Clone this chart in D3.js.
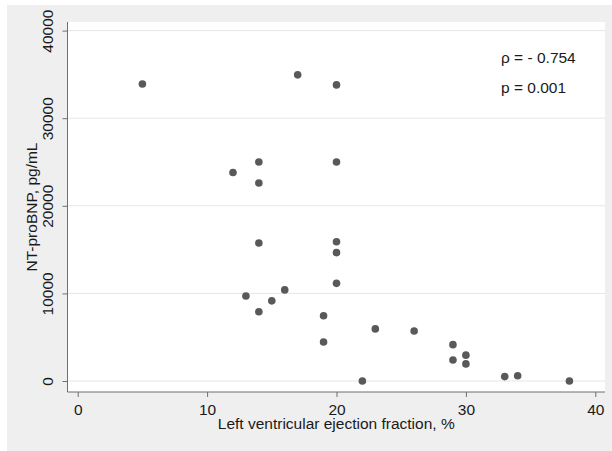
<!DOCTYPE html>
<html>
<head>
<meta charset="utf-8">
<script src="https://cdn.jsdelivr.net/npm/d3@7"></script>
<style>
  html, body { margin: 0; padding: 0; background: #fff; }
  svg { display: block; font-family: "Liberation Sans", Arial, sans-serif; }
</style>
</head>
<body>
<svg id="chart" width="612" height="451"></svg>
<script>
// LVEF (%) and NT-proBNP (pg/mL)
const lvef = [5, 17, 20, 12, 14, 14, 20, 14, 20, 20, 20, 13, 14, 15, 16, 19, 19, 22, 23, 26, 29, 29, 30, 30, 33, 34, 38];
const ntprobnp = [33900, 34950, 33800, 23800, 25000, 22600, 25000, 15750, 15900, 14650, 11150, 9700, 7900, 9150, 10400, 7450, 4450, 0, 5950, 5700, 4150, 2400, 2950, 1950, 500, 600, 0];
const xTicks = [0, 10, 20, 30, 40];
const yTicks = [0, 10000, 20000, 30000, 40000];
const stats = ["ρ = - 0.754", "p = 0.001"];

document.addEventListener('DOMContentLoaded', () => {
    const svg = d3.select('#chart');
    const plot = { left: 67.5, right: 605, top: 22, bottom: 392 };

    const x = d3.scaleLinear().domain([0, 40]).range([77.7, 595.3]);
    const y = d3.scaleLinear().domain([0, 40000]).range([381, 30.6]);

    // outer grey panel and white plot region
    svg.append('rect').attr('x', 7).attr('y', 5).attr('width', 605).attr('height', 446).attr('fill', '#efefef');
    svg.append('rect')
        .attr('x', plot.left).attr('y', plot.top)
        .attr('width', plot.right - plot.left).attr('height', plot.bottom - plot.top)
        .attr('fill', '#fff');

    // horizontal grid
    svg.append('g').selectAll('line')
        .data(yTicks)
        .enter().append('line')
        .attr('x1', plot.left).attr('x2', plot.right)
        .attr('y1', d => y(d)).attr('y2', d => y(d))
        .attr('stroke', '#e6e6e6').attr('stroke-width', 1);

    const font = 15.5;

    // y axis
    const yAxis = svg.append('g')
        .attr('transform', `translate(${plot.left},0)`)
        .call(d3.axisLeft(y).tickValues(yTicks).tickSize(5).tickSizeOuter(0).tickFormat(d3.format('d')));
    yAxis.select('.domain').remove();
    yAxis.append('line').attr('y1', plot.top).attr('y2', plot.bottom).attr('stroke', '#6e6e6e');
    yAxis.selectAll('.tick line').attr('stroke', '#6e6e6e');
    yAxis.selectAll('.tick text')
        .attr('x', null).attr('dy', null)
        .attr('transform', 'translate(-14.5,0) rotate(-90)')
        .attr('text-anchor', 'middle')
        .attr('font-size', font).attr('font-family', null).attr('fill', '#1a1a1a');

    // x axis
    const xAxis = svg.append('g')
        .attr('transform', `translate(0,${plot.bottom})`)
        .call(d3.axisBottom(x).tickValues(xTicks).tickSize(5).tickSizeOuter(0));
    xAxis.select('.domain').remove();
    xAxis.append('line').attr('x1', plot.left).attr('x2', plot.right).attr('stroke', '#6e6e6e');
    xAxis.selectAll('.tick line').attr('stroke', '#6e6e6e');
    xAxis.selectAll('.tick text')
        .attr('y', 23).attr('dy', null)
        .attr('font-size', font).attr('font-family', null).attr('fill', '#1a1a1a');

    // axis titles
    svg.append('text')
        .attr('x', (plot.left + plot.right) / 2).attr('y', 429)
        .attr('text-anchor', 'middle').attr('font-size', font).attr('fill', '#1a1a1a')
        .text('Left ventricular ejection fraction, %');
    svg.append('text')
        .attr('transform', `translate(37,${(plot.top + plot.bottom) / 2}) rotate(-90)`)
        .attr('text-anchor', 'middle').attr('font-size', font).attr('fill', '#1a1a1a')
        .text('NT-proBNP, pg/mL');

    // points
    svg.append('g').selectAll('circle')
        .data(lvef.map((v, i) => [v, ntprobnp[i]]))
        .enter().append('circle')
        .attr('cx', d => x(d[0])).attr('cy', d => y(d[1]))
        .attr('r', 3.8).attr('fill', '#595959');

    // correlation annotation
    svg.append('g').selectAll('text')
        .data(stats)
        .enter().append('text')
        .attr('x', 501).attr('y', (d, i) => 62.5 + i * 30.5)
        .attr('font-size', font).attr('fill', '#1a1a1a')
        .text(d => d);
});
</script>
</body>
</html>
